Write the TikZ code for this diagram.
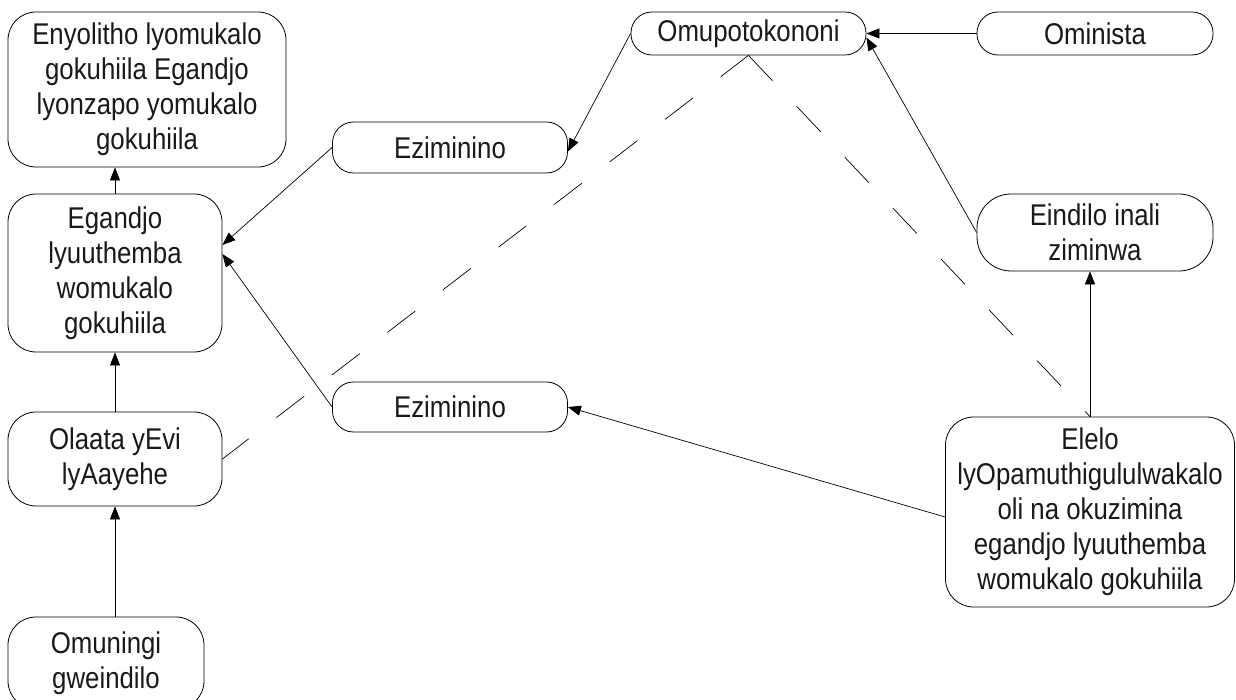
\documentclass[tikz,border=0pt]{standalone}
\usepackage{fontspec}
\setmainfont{Liberation Sans}[FakeStretch=0.86]
\usetikzlibrary{arrows.meta}
\begin{document}
\begin{tikzpicture}[x=1pt,y=-1pt,
  box/.style={draw=black, line width=0.8pt, rounded corners=28pt, align=center, inner sep=0pt,
              font=\fontsize{30}{35}\selectfont, text={black!90}},
  pill/.style={box, rounded corners=21pt},
  arr/.style={-{Triangle[length=13pt,width=10pt]}, line width=0.7pt},
  dsh/.style={line width=0.7pt, dash pattern=on 35pt off 35pt}]
\useasboundingbox (0,0) rectangle (1236,700);
% left column
\node[box, minimum width=278pt, minimum height=155pt] (tl) at (147,89.5)
  {Enyolitho lyomukalo\\gokuhiila Egandjo\\lyonzapo yomukalo\\gokuhiila};
\node[box, minimum width=214pt, minimum height=158pt] (eg) at (115,273)
  {Egandjo\\lyuuthemba\\womukalo\\gokuhiila};
\node[box, minimum width=214pt, minimum height=94pt] (ol) at (115,459)
  {Olaata yEvi\\lyAayehe};
\node[box, minimum width=196pt, minimum height=92pt] (om) at (106,663)
  {Omuningi\\gweindilo};
% middle
\node[pill, minimum width=235pt, minimum height=51pt] (ez1) at (450,147.5) {Eziminino};
\node[pill, minimum width=235pt, minimum height=50pt] (ez2) at (450,407) {Eziminino};
\node[pill, minimum width=235pt, minimum height=43pt] (op) at (748.5,33.5) {Omupotokononi};
% right
\node[pill, minimum width=236pt, minimum height=43pt] (mi) at (1095,33.5) {Ominista};
\node[box, rounded corners=34pt, minimum width=236pt, minimum height=77pt] (ei) at (1095,232.5)
  {Eindilo inali\\ziminwa};
\node[box, minimum width=289pt, minimum height=190pt] (el) at (1090,512)
  {Elelo\\lyOpamuthigululwakalo\\oli na okuzimina\\egandjo lyuuthemba\\womukalo gokuhiila};
% connectors
\draw[arr] (eg.north) -- (eg.north |- tl.south);
\draw[arr] (ol.north) -- (ol.north |- eg.south);
\draw[arr] (om.north -| ol.south) -- (ol.south);
\draw[arr] (ez1.west) -- ([yshift=28pt]eg.east);
\draw[arr] (ez2.west) -- ([yshift=19pt]eg.east);
\draw[arr] (op.west) -- ([yshift=-4pt]ez1.east);
\draw[arr] (mi.west) -- (op.east);
\draw[arr] (ei.west) -- ([yshift=-4pt]op.east);
\draw[arr] (el.north) -- (el.north |- ei.south);
\draw[arr] ([yshift=-5pt]el.west) -- (ez2.east);
\draw[dsh] (op.south) -- (ol.east);
\draw[dsh] (op.south) -- (el.north);
\end{tikzpicture}
\end{document}
